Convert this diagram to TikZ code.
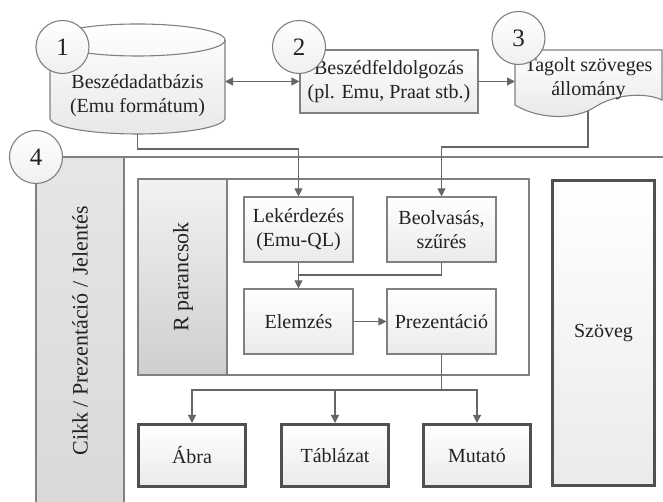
\documentclass[tikz,border=0pt]{standalone}
\usepackage{fontspec}
\setmainfont{Liberation Serif}
\usetikzlibrary{positioning,arrows.meta,calc}
\definecolor{ink}   {HTML}{222222}
\definecolor{frame} {HTML}{808080}
\definecolor{wire}  {HTML}{666666}
\definecolor{heavy} {HTML}{505050}
\colorlet{boxtop}{white}
\colorlet{boxbot}{gray!16}
\tikzset{
  >={Triangle[length=8pt,width=8pt]},
  every node/.style={font=\fontsize{20}{24}\selectfont, text=ink},
  % --- nodes
  box/.style    = {draw=frame, line width=1.1pt, top color=boxtop, bottom color=boxbot,
                   align=center, minimum width=109pt, minimum height=65pt, inner sep=2pt},
  outbox/.style = {box, draw=heavy, line width=3pt, minimum width=107pt, minimum height=62pt},
  num/.style    = {circle, draw=frame, line width=1.1pt, top color=white, bottom color=gray!12,
                   minimum size=53pt, inner sep=0pt, font=\fontsize{25}{26}\selectfont},
  lane/.style   = {draw=frame, line width=1.1pt},
  vlabel/.style = {rotate=90, font=\fontsize{22}{24}\selectfont},
  % --- edges
  e/.style      = {->, line width=1.1pt, draw=wire},
  e2/.style     = {<->, line width=1.1pt, draw=wire},
  wline/.style  = {line width=1.1pt, draw=wire},
}

\begin{document}
\begin{tikzpicture}[x=1pt,y=1pt]
  \useasboundingbox (0,0) rectangle (663,502);

  % database
  \draw[lane, top color=white, bottom color=gray!18]
    (50,462) -- (50,384) arc[start angle=180, end angle=360, x radius=87.5, y radius=16]
    -- (225,462) arc[start angle=0, end angle=180, x radius=87.5, y radius=16] -- cycle;
  \draw[lane] (50,462) arc[start angle=180, end angle=360, x radius=87.5, y radius=16];
  \node[align=center] (db) at (137.5,406) {Beszédadatbázis\\(Emu formátum)};
  \coordinate (dbe) at (225,420.5);
  \coordinate (dbs) at (137.5,368);

  % processing
  \node[box, minimum width=178pt, minimum height=63pt] (proc) at (389,420.5)
    {Beszédfeldolgozás\\(pl. Emu, Praat stb.)};

  % document
  \draw[lane, top color=white, bottom color=gray!18]
    (515,452) -- (662,452) -- (662,402)
    .. controls (645,410) and (615,408) .. (595,395)
    .. controls (575,382) and (540,382) .. (515,397) -- cycle;
  \node[align=center] (doc) at (588.5,423) {Tagolt szöveges\\állomány};
  \coordinate (docw) at (515,420.5);
  \coordinate (docs) at (588,391);

  % step numbers
  \node[num] (n1) at (62.5,455) {1};
  \node[num] (n2) at (299,455) {2};
  \node[num] (n3) at (518.5,464) {3};

  \draw[e2] (dbe) -- (proc.west);
  \draw[e] (proc.east) -- (docw);

  % report frame
  \draw[lane] (36,345) -- (663,345);
  \draw[lane, top color=gray!20, bottom color=gray!30] (36,345) rectangle (124,-3);
  \node[vlabel] (cikk) at (80,171) {Cikk / Prezentáció / Jelentés};
  \node[num] (n4) at (36,345) {4};

  % R commands
  \draw[lane] (138,323) rectangle (529,127);
  \draw[lane, top color=gray!10, bottom color=gray!38] (138,323) rectangle (227,127);
  \node[vlabel] (rcmd) at (183,225) {R parancsok};

  \node[box] (lek)  at (298.5,272.5) {Lekérdezés\\(Emu-QL)};
  \node[box] (beo)  at (441.5,272.5) {Beolvasás,\\szűrés};
  \node[box] (elem) at (298.5,180.5) {Elemzés};
  \node[box] (prez) at (441.5,180.5) {Prezentáció};

  % outputs
  \node[outbox] (abra) at (192,46.5) {Ábra};
  \node[outbox] (tabl) at (335,46.5) {Táblázat};
  \node[outbox] (mut)  at (477,46.5) {Mutató};
  \node[outbox, minimum width=102pt, minimum height=305pt] (szov) at (603.5,169) {Szöveg};

  % wires
  \draw[e] (dbs) -- ++(0,-15) -| (lek.north);
  \draw[e] (docs) -- ++(0,-36) -| (beo.north);
  \draw[e] (lek) -- (elem);
  \coordinate (jn) at (298.5,227);
  \draw[wline] (beo.south) |- (jn);
  \draw[e] (elem) -- (prez);
  \coordinate (br) at (441.5,112);
  \draw[wline] (prez.south) -- (br);
  \draw[e] (br) -| (abra.north);
  \draw[e] (br) -| (tabl.north);
  \draw[e] (br) -| (mut.north);
\end{tikzpicture}
\end{document}
